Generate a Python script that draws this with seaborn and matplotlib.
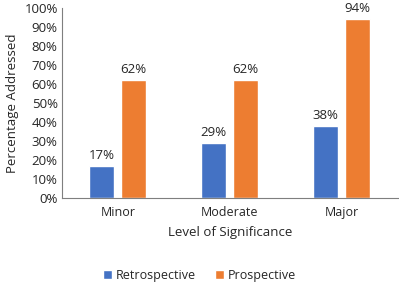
import numpy as np
import pandas as pd
import matplotlib
matplotlib.use("Agg")
import matplotlib.pyplot as plt
import seaborn as sns
from matplotlib.ticker import PercentFormatter, FixedLocator

# ----- data -----
levels = ["Minor", "Moderate", "Major"]
retrospective = [17, 29, 38]
prospective = [62, 62, 94]
series_names = ["Retrospective", "Prospective"]
palette = ["#4472C4", "#ED7D31"]

df = pd.DataFrame({
    "level": levels * 2,
    "value": retrospective + prospective,
    "series": [series_names[0]] * 3 + [series_names[1]] * 3,
})

sns.set_style("white")
plt.rcParams["font.family"] = ["Open Sans", "DejaVu Sans"]
text_col = "#262626"

fig = plt.figure(figsize=(3.99, 2.85), dpi=100)
ax = fig.add_axes([0.155, 0.305, 0.842, 0.667])

sns.barplot(data=df, x="level", y="value", hue="series", palette=palette,
            width=0.57, gap=0.22, ax=ax, saturation=1)

for cont in ax.containers:
    ax.bar_label(cont, fmt="%.0f%%", padding=3, fontsize=9.5, color=text_col)

ax.set_ylim(0, 100)
ax.set_xlim(-0.5, 2.5)
ax.yaxis.set_major_locator(FixedLocator(np.arange(0, 101, 10)))
ax.yaxis.set_major_formatter(PercentFormatter(decimals=0))
ax.tick_params(axis="y", length=0, labelsize=9.5, labelcolor=text_col, pad=3)
ax.tick_params(axis="x", which="major", length=0, labelsize=9,
               labelcolor=text_col, pad=6)
ax.xaxis.set_minor_locator(FixedLocator([-0.5, 0.5, 1.5, 2.5]))
ax.tick_params(axis="x", which="minor", length=4, width=0.8, color="#7f7f7f",
               direction="out")

for side in ["top", "right"]:
    ax.spines[side].set_visible(False)
for side in ["left", "bottom"]:
    ax.spines[side].set_color("#7f7f7f")
    ax.spines[side].set_linewidth(0.8)

ax.set_xlabel("Level of Significance", fontsize=9.5, color=text_col, labelpad=5)
ax.set_ylabel("Percentage Addressed", fontsize=9.5, color=text_col, labelpad=4)

handles, labels = ax.get_legend_handles_labels()
ax.legend_.remove()
fig.legend(handles, labels, loc="center", bbox_to_anchor=(0.5, 0.035),
           ncol=2, frameon=False, fontsize=9, handlelength=0.7,
           handleheight=0.7, handletextpad=0.3, columnspacing=1.5,
           labelcolor=text_col)

fig.savefig("out.png", dpi=100)
